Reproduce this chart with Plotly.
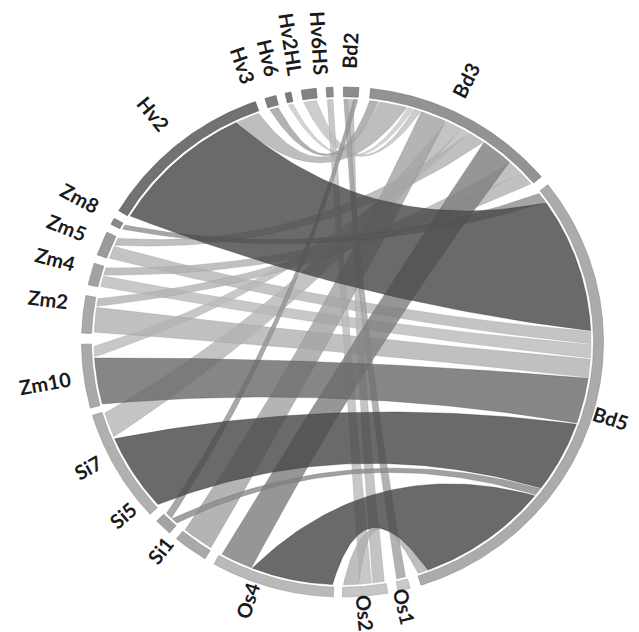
import math
import plotly.graph_objects as go

# ---------------- data ----------------
segment_names = ["Bd2", "Bd3", "Bd5", "Os1", "Os2", "Os4", "Si1", "Si5", "Si7",
                 "Zm10", "Zm2", "Zm4", "Zm5", "Zm8", "Hv2", "Hv3", "Hv6", "Hv2HL", "Hv6HS"]
segment_lengths = [3.4, 43.4, 110.6, 2.7, 10.0, 27.5, 7.7, 3.9, 25.8,
                   14.5, 8.5, 5.0, 5.5, 1.5, 39.5, 2.5, 1.3, 3.3, 1.5]

link_source = ["Hv3", "Hv2", "Hv6", "Hv2HL", "Si1", "Si7", "Zm10", "Zm5", "Os4", "Zm2", "Zm4",
               "Zm8", "Hv2", "Zm5", "Zm4", "Zm2", "Zm10", "Si7", "Si5", "Os4", "Os2",
               "Os1", "Os2", "Os2", "Si5"]
link_source_from = [0.3, 34.0, 0.1, 0.1, 0.2, 19.5, 11.5, 3.5, 19.5, 6.5, 3.0,
                    0.2, 0.3, 0.2, 0.2, 0.3, 0.2, 0.5, 0.3, 0.3, 6.2,
                    0.3, 0.3, 3.3, 2.0]
link_source_to = [2.3, 39.3, 1.2, 3.1, 7.5, 25.5, 14.0, 5.3, 27.0, 8.3, 4.8,
                  1.3, 33.7, 3.2, 2.8, 6.2, 11.2, 19.0, 1.8, 19.3, 9.8,
                  2.4, 3.0, 6.0, 3.6]
link_target = ["Bd3", "Bd3", "Bd3", "Bd3", "Bd3", "Bd3", "Bd3", "Bd3", "Bd3", "Bd3", "Bd3",
               "Bd5", "Bd5", "Bd5", "Bd5", "Bd5", "Bd5", "Bd5", "Bd5", "Bd5", "Bd5",
               "Bd2", "Bd2", "Hv6HS", "Bd2"]
link_target_from = [0.1, 2.4, 9.1, 10.5, 12.3, 18.5, 22.5, 24.5, 28.5, 36.2, 39.8,
                    0.4, 3.1, 35.6, 38.7, 42.2, 46.7, 57.9, 75.3, 77.4, 108.3,
                    0.1, 1.3, 0.1, 2.4]
link_target_to = [2.1, 8.8, 10.3, 12.1, 18.3, 22.3, 24.3, 28.3, 36.0, 39.6, 43.1,
                  2.9, 35.4, 38.5, 41.9, 46.5, 57.6, 75.1, 77.1, 108.1, 110.4,
                  1.1, 2.3, 1.4, 3.3]

# ---------------- style / layout ----------------
W, H = 639, 632
CX, CY, RX, RY = 334.5, 334.0, 261.0, 255.0
LABEL_CX, LABEL_CY = 328.5, 324.0
R_BAR_OUT, R_BAR_IN, R_CHORD, R_LABEL = 1.0, 0.962, 0.952, 1.035
BEZ_K = 0.58
START_ANGLE = 0.2
GAPS_AFTER = [2.6, 2.3, 2.5, 2.3, 2.0, 2.3, 2.0, 2.1, 1.7, 2.5, 2.5, 2.0, 2.0, 2.0, 2.2, 2.1, 2.3, 2.2, 2.3]
SEGMENT_GRAY = {"Bd2": 140, "Bd3": 147, "Bd5": 171, "Os1": 201, "Os2": 198, "Os4": 185,
                "Si1": 169, "Si5": 163, "Si7": 176, "Zm10": 169, "Zm2": 169, "Zm4": 162,
                "Zm5": 155, "Zm8": 138, "Hv2": 114, "Hv3": 127, "Hv6": 122, "Hv2HL": 131,
                "Hv6HS": 140}
LINK_GRAY = [178, 190, 212, 205, 180, 196, 200, 192, 150, 194, 192,
             165, 106, 196, 200, 192, 134, 106, 160, 106, 190,
             178, 196, 200, 168]
LINK_ALPHA = 0.82
LABEL_NUDGE = {"Bd2": 0.8, "Bd3": -1.2, "Bd5": 0.5, "Os2": -0.6, "Os4": 2.2, "Si1": 2.7,
               "Si5": 5.3, "Si7": 0.5, "Zm10": -2.3, "Zm2": 0.5, "Zm4": -0.7, "Zm5": -1.0,
               "Hv3": -2.9, "Hv6": -1.5, "Hv2HL": -1.3, "Hv6HS": -0.5}
LABEL_R_ADJ = {"Hv2HL": -0.015, "Hv6HS": -0.022}
FONT_SIZE = 20
FONT = dict(family="Lato, 'Open Sans', sans-serif", size=FONT_SIZE, color="#1a1a1a", weight="bold")
CHAR_EM = {"B": 0.64, "H": 0.73, "O": 0.76, "S": 0.53, "Z": 0.60, "L": 0.51,
           "d": 0.57, "m": 0.86, "s": 0.45, "i": 0.27, "v": 0.50}

# ---------------- geometry ----------------
seg_start = {}
a = START_ANGLE
for name, ln, gap in zip(segment_names, segment_lengths, GAPS_AFTER):
    seg_start[name] = a
    a += ln + gap
seg_len = dict(zip(segment_names, segment_lengths))


def xy(theta, r, cx=CX, cy=CY):
    t = math.radians(theta)
    return cx + RX * r * math.sin(t), cy - RY * r * math.cos(t)


def arc(a1, a2, r):
    n = max(2, int(abs(a2 - a1) / 0.4) + 2)
    return [xy(a1 + (a2 - a1) * i / (n - 1), r) for i in range(n)]


def bezier(t1, t2):
    d = ((t2 - t1 + 540) % 360) - 180
    mid = t1 + d / 2
    fr = BEZ_K * math.cos(math.radians(abs(d) / 2))
    p0, p2 = xy(t1, R_CHORD), xy(t2, R_CHORD)
    c = xy(mid, R_CHORD * fr)
    pts = []
    n = 50
    for i in range(n + 1):
        s = i / n
        x = (1 - s) ** 2 * p0[0] + 2 * (1 - s) * s * c[0] + s ** 2 * p2[0]
        y = (1 - s) ** 2 * p0[1] + 2 * (1 - s) * s * c[1] + s ** 2 * p2[1]
        pts.append((x, y))
    return pts


def gray(v, alpha=1.0):
    v = int(round(max(0, min(255, v))))
    return f"rgba({v},{v},{v},{alpha})"


fig = go.Figure()

# chords: lightest first, darkest last
order = sorted(range(len(link_source)), key=lambda i: -LINK_GRAY[i])
for i in order:
    a1 = seg_start[link_source[i]] + link_source_from[i]
    a2 = seg_start[link_source[i]] + link_source_to[i]
    b1 = seg_start[link_target[i]] + link_target_from[i]
    b2 = seg_start[link_target[i]] + link_target_to[i]
    pts = arc(a1, a2, R_CHORD) + bezier(a2, b1) + arc(b1, b2, R_CHORD) + bezier(b2, a1)
    fill_v = (LINK_GRAY[i] - 255 * (1 - LINK_ALPHA)) / LINK_ALPHA
    fig.add_trace(go.Scatter(
        x=[p[0] for p in pts], y=[p[1] for p in pts], mode="lines",
        fill="toself", fillcolor=gray(fill_v, LINK_ALPHA),
        line=dict(color=gray(fill_v - 35, 0.5), width=0.6),
        hoverinfo="skip", showlegend=False))

# segment bars
for name in segment_names:
    s0 = seg_start[name]
    s1 = s0 + seg_len[name]
    pts = arc(s0, s1, R_BAR_OUT) + arc(s1, s0, R_BAR_IN)
    pts.append(pts[0])
    fig.add_trace(go.Scatter(
        x=[p[0] for p in pts], y=[p[1] for p in pts], mode="lines",
        fill="toself", fillcolor=gray(SEGMENT_GRAY[name]),
        line=dict(color=gray(SEGMENT_GRAY[name] - 30), width=0.6),
        hoverinfo="skip", showlegend=False))

# labels: radial text centred half its length beyond the label ring
for name in segment_names:
    mid = seg_start[name] + seg_len[name] / 2 + LABEL_NUDGE.get(name, 0.0)
    tw = sum(CHAR_EM.get(ch, 0.58) for ch in name) * FONT_SIZE
    t = math.radians(mid)
    dx, dy = RX * math.sin(t), -RY * math.cos(t)
    nrm = math.hypot(dx, dy)
    ux, uy = dx / nrm, dy / nrm
    px, py = xy(mid, R_LABEL + LABEL_R_ADJ.get(name, 0.0), LABEL_CX, LABEL_CY)
    px += ux * tw / 2
    py += uy * tw / 2
    ang = mid % 360
    textangle = ang - 90 if ang < 180 else ang - 270
    fig.add_annotation(x=px, y=py, text=name, showarrow=False, textangle=textangle,
                       xanchor="center", yanchor="middle", font=FONT)

fig.update_layout(
    width=W, height=H, margin=dict(l=0, r=0, t=0, b=0),
    paper_bgcolor="white", plot_bgcolor="white", showlegend=False,
    xaxis=dict(range=[0, W], visible=False, fixedrange=True),
    yaxis=dict(range=[H, 0], visible=False, fixedrange=True),
)

fig.write_html("out.html")
